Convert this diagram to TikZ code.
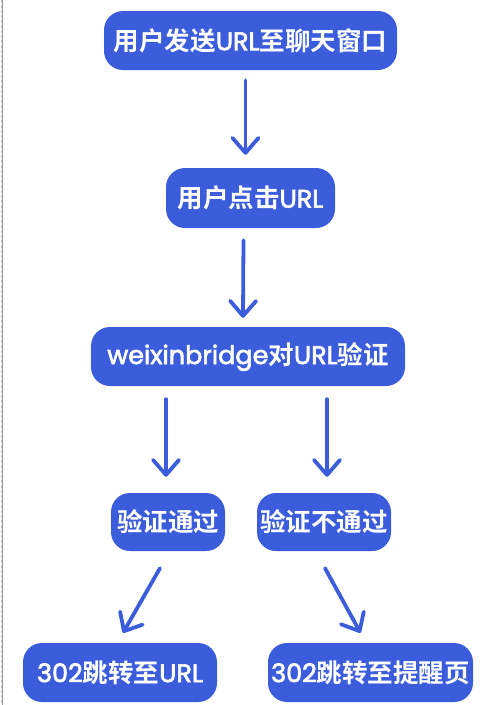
\documentclass[tikz,border=0pt]{standalone}
\usepackage{fontspec}
\setmainfont{Noto Sans CJK SC}[BoldFont={Noto Sans CJK SC Bold}]
\newfontfamily\latinfont{Poppins}[BoldFont={Poppins},BoldFeatures={FakeBold=2.5}]
\newcommand{\lt}[1]{{\latinfont\bfseries #1}}
\usetikzlibrary{arrows.meta}
\definecolor{flowblue}{HTML}{3B5DDC}
\tikzset{
  box/.style={fill=flowblue, rounded corners=19pt, text=white, inner sep=0pt,
    font=\bfseries\fontsize{25.5}{30}\selectfont},
  flowarrow/.style={draw=flowblue, line width=3.8pt, line cap=round,
    -{Straight Barb[length=15pt,width=26pt,line cap=round,line join=round]}}
}
\begin{document}
\begin{tikzpicture}[x=1pt,y=-1pt]
\useasboundingbox (0,0) rectangle (487,705);
\draw[gray!40, line width=1pt, dash pattern=on 3pt off 2pt] (1,0) -- (1,705);
\draw[gray!80, line width=0.8pt] (2.8,0) -- (2.8,705);

\node[box, minimum width=293pt, minimum height=59pt] (n1) at (250.5,40.5) {用户发送\lt{URL}至聊天窗口};
\node[box, minimum width=169pt, minimum height=60pt] (n2) at (250.5,198) {用户点击\lt{URL}};
\node[box, minimum width=314pt, minimum height=59pt] (n3) at (248,356.5) {\lt{weixinbridge}对\lt{URL}验证};
\node[box, minimum width=114pt, minimum height=58pt] (n4) at (168,522) {验证通过};
\node[box, minimum width=134pt, minimum height=58pt] (n5) at (324,522) {验证不通过};
\node[box, minimum width=194pt, minimum height=59pt] (n6) at (120,672.5) {\lt{302}跳转至\lt{URL}};
\node[box, minimum width=205pt, minimum height=59pt] (n7) at (370.5,672.5) {\lt{302}跳转至提醒页};

\draw[flowarrow] ([xshift=-5pt,yshift=-10pt]n1.south) -- ([xshift=-5pt,yshift=13pt]n2.north);
\draw[flowarrow] ([xshift=-7pt,yshift=-12pt]n2.south) -- ([xshift=-5pt,yshift=9pt]n3.north);
\draw[flowarrow] ([xshift=-2pt]n4.north |- n3.south) ++(0,13) -- ([xshift=-2pt,yshift=16pt]n4.north);
\draw[flowarrow] ([xshift=3pt]n5.north |- n3.south) ++(0,13) -- ([xshift=3pt,yshift=16pt]n5.north);
\draw[flowarrow] ([xshift=-8pt,yshift=-17pt]n4.south) -- ([xshift=3pt,yshift=10pt]n6.north);
\draw[flowarrow] ([xshift=1pt,yshift=-17pt]n5.south) -- ([xshift=-10pt,yshift=10pt]n7.north);
\end{tikzpicture}
\end{document}
